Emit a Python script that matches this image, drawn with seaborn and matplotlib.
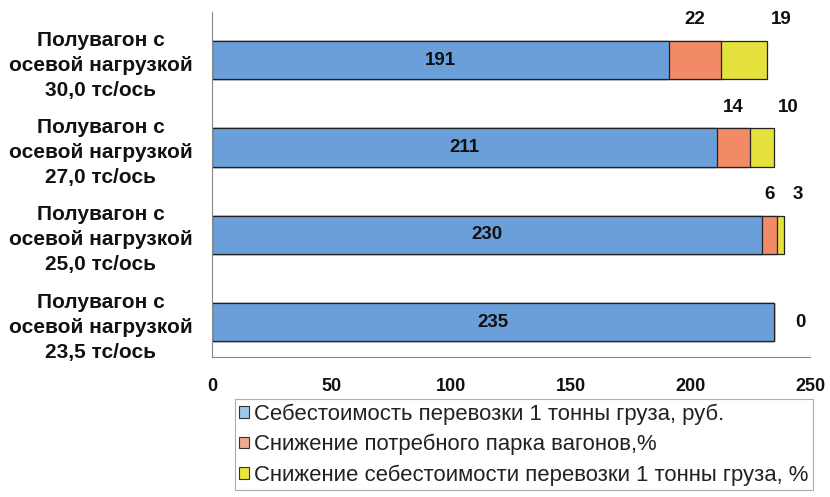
import matplotlib
matplotlib.use("Agg")
import matplotlib.pyplot as plt
from matplotlib.patches import Patch
import seaborn as sns
import pandas as pd
import numpy as np

categories = [
    "Полувагон с\nосевой нагрузкой\n30,0 тс/ось",
    "Полувагон с\nосевой нагрузкой\n27,0 тс/ось",
    "Полувагон с\nосевой нагрузкой\n25,0 тс/ось",
    "Полувагон с\nосевой нагрузкой\n23,5 тс/ось",
]
cost = [191, 211, 230, 235]
fleet_reduction = [22, 14, 6, 0]
cost_reduction = [19, 10, 3, 0]
series_names = [
    "Себестоимость перевозки 1 тонны груза, руб.",
    "Снижение потребного парка вагонов,%",
    "Снижение себестоимости перевозки 1 тонны груза, %",
]
xticks = [0, 50, 100, 150, 200, 250]

colors = ["#6b9fd9", "#f28a68", "#e4e03c"]
legend_colors = ["#9cc8ec", "#f0a890", "#e8e440"]

sns.set_theme(style="white")
plt.rcParams["font.family"] = ["Liberation Sans", "DejaVu Sans"]

df = pd.DataFrame({
    "cat": categories,
    "cost": cost,
    "fleet": fleet_reduction,
    "cred": cost_reduction,
})
df["s2"] = df["cost"] + df["fleet"]
df["s3"] = df["s2"] + df["cred"]

fig = plt.figure(figsize=(8.3, 4.97), dpi=100)
ax = fig.add_axes([212 / 830, 1 - 357 / 497, (810 - 212) / 830, (357 - 12) / 497])

bw = 0.44
for col, c in zip(["s3", "s2", "cost"], colors[::-1]):
    sns.barplot(data=df, x=col, y="cat", orient="h", color=c, width=bw,
                edgecolor="#222222", linewidth=0.9, saturation=1, ax=ax)

ax.set_xlim(0, 250)
ax.set_ylim(3.4, -0.55)
ax.set_xticks(xticks)
ax.set_xticklabels([str(t) for t in xticks], fontsize=13, fontweight="bold", color="#111111")
ax.set_xlabel("")
ax.set_ylabel("")
for lbl in ax.get_yticklabels():
    lbl.set_horizontalalignment("center")
    lbl.set_multialignment("center")
    lbl.set_fontsize(15)
    lbl.set_fontweight("bold")
    lbl.set_color("#111111")
    lbl.set_linespacing(1.4)
ax.tick_params(axis="y", pad=80, length=0)
ax.tick_params(axis="x", length=5, width=0.8, color="#888888", direction="out", pad=10)
sns.despine(ax=ax, top=True, right=True)
ax.spines["left"].set_color("#888888")
ax.spines["bottom"].set_color("#888888")
ax.spines["left"].set_linewidth(0.8)
ax.spines["bottom"].set_linewidth(0.8)

fs = 13.5
for i in range(len(categories)):
    ax.text(cost[i] / 2, i, str(cost[i]), ha="center", va="center",
            fontsize=fs, fontweight="bold", color="#111111")
    if fleet_reduction[i] == 0 and cost_reduction[i] == 0:
        ax.text(cost[i] + 11, i, "0", ha="center", va="center",
                fontsize=fs, fontweight="bold", color="#111111")
        continue
    ax.text(cost[i] + fleet_reduction[i] / 2, i - 0.46, str(fleet_reduction[i]),
            ha="center", va="center", fontsize=fs, fontweight="bold", color="#111111")
    ax.text(df["s3"][i] + 6, i - 0.46, str(cost_reduction[i]),
            ha="center", va="center", fontsize=fs, fontweight="bold", color="#111111")

handles = [Patch(facecolor=c, edgecolor="#333333", linewidth=0.8) for c in legend_colors]
leg = fig.legend(handles, series_names, loc="upper left",
                 bbox_to_anchor=(235 / 830, 1 - 399 / 497),
                 fontsize=15.9, frameon=True, fancybox=False, shadow=False,
                 handlelength=0.42, handleheight=0.42, handletextpad=0.25,
                 labelspacing=0.42, borderpad=0.2, borderaxespad=0)
leg.get_frame().set_edgecolor("#999999")
leg.get_frame().set_linewidth(0.8)
for t in leg.get_texts():
    t.set_color("#222222")

fig.savefig("out.png", dpi=100)
